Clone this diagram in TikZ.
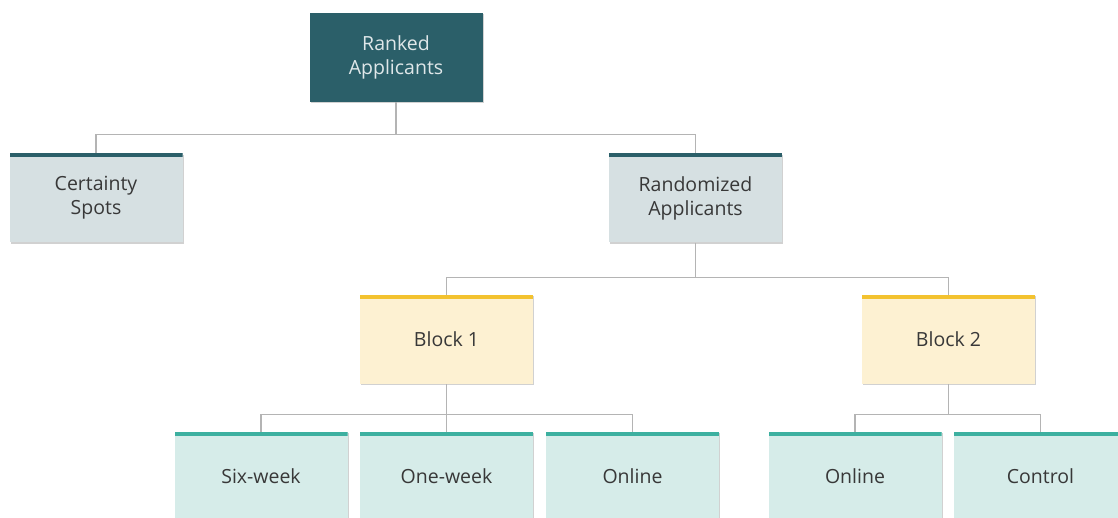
\documentclass[tikz,border=0pt]{standalone}
\usepackage{fontspec}
\setmainfont{Open Sans}
\usetikzlibrary{shapes,arrows,shadows}
\definecolor{darkteal}{HTML}{2B5F69}
\definecolor{greyfill}{HTML}{D6E0E2}
\definecolor{yellowfill}{HTML}{FDF1D2}
\definecolor{yellowbar}{HTML}{F3C22F}
\definecolor{mintfill}{HTML}{D6ECE9}
\definecolor{mintbar}{HTML}{3DB0A0}
\definecolor{textgrey}{HTML}{383838}
\definecolor{linegrey}{HTML}{B4B4B4}
\tikzstyle{box} = [rectangle, minimum width=173pt, minimum height=89pt, inner sep=0pt, align=center, font=\fontsize{19.5}{24}\selectfont, text=textgrey, drop shadow={shadow xshift=1.2pt, shadow yshift=-1.2pt, fill=black!18, opacity=1}]
\tikzstyle{root} = [box, fill=darkteal, text=white!85!darkteal]
\tikzstyle{greybox} = [box, fill=greyfill, path picture={\fill[darkteal] (path picture bounding box.north west) rectangle ([yshift=-4pt]path picture bounding box.north east);}]
\tikzstyle{blockbox} = [box, fill=yellowfill, path picture={\fill[yellowbar] (path picture bounding box.north west) rectangle ([yshift=-4pt]path picture bounding box.north east);}]
\tikzstyle{armbox} = [box, fill=mintfill, path picture={\fill[mintbar] (path picture bounding box.north west) rectangle ([yshift=-4pt]path picture bounding box.north east);}]
\tikzstyle{conn} = [draw=linegrey, line width=1.3pt]

\begin{document}
\begin{tikzpicture}[x=1pt, y=1pt]
		\useasboundingbox (0,0) rectangle (1118,-518);
		\node [root] (ranked) at (396,-57.5) {Ranked\\Applicants};
		\node [greybox] (certainty) at (96,-198) {Certainty\\Spots};
		\node [greybox] (randomized) at (695.5,-198) {Randomized\\Applicants};
		\node [blockbox] (block1) at (446.5,-339.5) {Block 1};
		\node [blockbox] (block2) at (948.5,-339.5) {Block 2};
		\node [armbox] (sixweek) at (261,-476.5) {Six-week};
		\node [armbox, right of=sixweek, node distance=185.5pt] (oneweek) {One-week};
		\node [armbox, right of=oneweek, node distance=186pt] (online1) {Online};
		\node [armbox] (online2) at (855,-476.5) {Online};
		\node [armbox, right of=online2, node distance=185.5pt] (control) {Control};
		
		\coordinate (j1) at ([yshift=-32pt]ranked.south);
		\coordinate (j2) at ([yshift=-35pt]randomized.south);
		\coordinate (j3) at ([yshift=-30pt]block1.south);
		\coordinate (j4) at ([yshift=-30pt]block2.south);
		
		\draw [conn] (ranked.south) -- (j1) -| (certainty.north);
		\draw [conn] (j1) -| (randomized.north);
		\draw [conn] (randomized.south) -- (j2) -| (block1.north);
		\draw [conn] (j2) -| (block2.north);
		\draw [conn] (block1.south) -- (j3) -| (sixweek.north);
		\draw [conn] (j3) -- (oneweek.north);
		\draw [conn] (j3) -| (online1.north);
		\draw [conn] (block2.south) -- (j4) -| (online2.north);
		\draw [conn] (j4) -| (control.north);
		
\end{tikzpicture}
\end{document}
